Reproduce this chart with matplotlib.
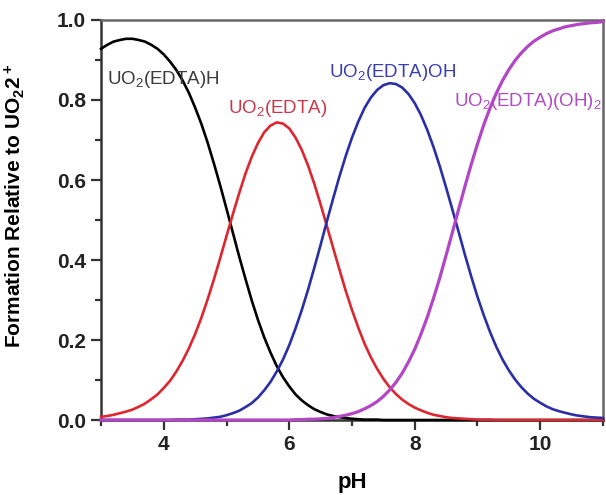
import matplotlib
matplotlib.use("Agg")
import matplotlib.pyplot as plt
from matplotlib.ticker import MultipleLocator, FormatStrFormatter

plt.rcParams['font.family'] = ['Liberation Sans', 'DejaVu Sans']
plt.rcParams['mathtext.fontset'] = 'custom'
plt.rcParams['mathtext.rm'] = 'Liberation Sans'
plt.rcParams['mathtext.bf'] = 'Liberation Sans:bold'
plt.rcParams['mathtext.default'] = 'regular'

# species distribution (pH step 0.1)
ph = [3.0, 3.1, 3.2, 3.3, 3.4, 3.5, 3.6, 3.7, 3.8, 3.9,
      4.0, 4.1, 4.2, 4.3, 4.4, 4.5, 4.6, 4.7, 4.8, 4.9,
      5.0, 5.1, 5.2, 5.3, 5.4, 5.5, 5.6, 5.7, 5.8, 5.9,
      6.0, 6.1, 6.2, 6.3, 6.4, 6.5, 6.6, 6.7, 6.8, 6.9,
      7.0, 7.1, 7.2, 7.3, 7.4, 7.5, 7.6, 7.7, 7.8, 7.9,
      8.0, 8.1, 8.2, 8.3, 8.4, 8.5, 8.6, 8.7, 8.8, 8.9,
      9.0, 9.1, 9.2, 9.3, 9.4, 9.5, 9.6, 9.7, 9.8, 9.9,
      10.0, 10.1, 10.2, 10.3, 10.4, 10.5, 10.6, 10.7, 10.8, 10.9,
      11.0]

edta_h = [0.928, 0.938, 0.946, 0.950, 0.953, 0.953, 0.950, 0.946, 0.938, 0.928,
          0.914, 0.896, 0.875, 0.849, 0.818, 0.781, 0.740, 0.693, 0.641, 0.586,
          0.528, 0.469, 0.410, 0.354, 0.300, 0.251, 0.207, 0.169, 0.135, 0.107,
          0.084, 0.064, 0.049, 0.037, 0.027, 0.020, 0.014, 0.010, 0.007, 0.005,
          0.003, 0.002, 0.001, 0.001, 0.001, 0.000, 0.000, 0.000, 0.000, 0.000,
          0.000, 0.000, 0.000, 0.000, 0.000, 0.000, 0.000, 0.000, 0.000, 0.000,
          0.000, 0.000, 0.000, 0.000, 0.000, 0.000, 0.000, 0.000, 0.000, 0.000,
          0.000, 0.000, 0.000, 0.000, 0.000, 0.000, 0.000, 0.000, 0.000, 0.000,
          0.000]

edta = [0.008, 0.010, 0.013, 0.017, 0.021, 0.026, 0.033, 0.041, 0.052, 0.064,
        0.080, 0.098, 0.121, 0.148, 0.179, 0.215, 0.256, 0.302, 0.352, 0.405,
        0.460, 0.514, 0.566, 0.615, 0.657, 0.692, 0.719, 0.736, 0.744, 0.741,
        0.729, 0.706, 0.675, 0.636, 0.590, 0.539, 0.485, 0.430, 0.376, 0.323,
        0.275, 0.231, 0.191, 0.157, 0.128, 0.103, 0.082, 0.065, 0.051, 0.040,
        0.031, 0.024, 0.018, 0.013, 0.010, 0.007, 0.005, 0.004, 0.003, 0.002,
        0.001, 0.001, 0.001, 0.000, 0.000, 0.000, 0.000, 0.000, 0.000, 0.000,
        0.000, 0.000, 0.000, 0.000, 0.000, 0.000, 0.000, 0.000, 0.000, 0.000,
        0.000]

edta_oh = [0.000, 0.000, 0.000, 0.000, 0.000, 0.000, 0.000, 0.000, 0.000, 0.000,
           0.000, 0.000, 0.001, 0.001, 0.001, 0.002, 0.003, 0.004, 0.006, 0.008,
           0.012, 0.017, 0.023, 0.032, 0.042, 0.056, 0.074, 0.095, 0.121, 0.151,
           0.187, 0.229, 0.275, 0.326, 0.381, 0.438, 0.497, 0.554, 0.609, 0.660,
           0.706, 0.746, 0.780, 0.806, 0.825, 0.837, 0.842, 0.840, 0.831, 0.815,
           0.792, 0.762, 0.725, 0.682, 0.634, 0.581, 0.526, 0.470, 0.413, 0.359,
           0.308, 0.262, 0.220, 0.183, 0.151, 0.124, 0.101, 0.082, 0.066, 0.053,
           0.043, 0.034, 0.027, 0.022, 0.018, 0.014, 0.011, 0.009, 0.007, 0.006,
           0.005]

edta_oh2 = [0.000, 0.000, 0.000, 0.000, 0.000, 0.000, 0.000, 0.000, 0.000, 0.000,
            0.000, 0.000, 0.000, 0.000, 0.000, 0.000, 0.000, 0.000, 0.000, 0.000,
            0.000, 0.000, 0.000, 0.000, 0.000, 0.000, 0.000, 0.000, 0.000, 0.000,
            0.000, 0.001, 0.001, 0.002, 0.002, 0.003, 0.004, 0.006, 0.009, 0.012,
            0.016, 0.021, 0.028, 0.036, 0.046, 0.059, 0.075, 0.094, 0.117, 0.145,
            0.177, 0.215, 0.257, 0.305, 0.356, 0.412, 0.469, 0.527, 0.584, 0.639,
            0.690, 0.738, 0.780, 0.817, 0.849, 0.876, 0.899, 0.918, 0.934, 0.947,
            0.957, 0.966, 0.973, 0.978, 0.983, 0.986, 0.989, 0.991, 0.993, 0.994,
            0.996]

fig = plt.figure(figsize=(6.06, 4.95), dpi=100)
ax = fig.add_axes([0.1667, 0.1515, 0.8283, 0.8081])

# lines drawn over the spines, as in the original
ax.plot(ph, edta_h, color='black', lw=1.9, zorder=3, clip_on=False)
ax.plot(ph, edta, color='#dd2630', lw=1.9, zorder=3, clip_on=False)
ax.plot(ph, edta_oh, color='#2b2fa6', lw=1.9, zorder=3, clip_on=False)
ax.plot(ph, edta_oh2, color='#b246c4', lw=2.3, zorder=3, clip_on=False)

ax.text(3.1, 0.84, 'UO$_2$(EDTA)H', color='#3a3a3a', fontsize=13.5, va='baseline')
ax.text(5.02, 0.767, 'UO$_2$(EDTA)', color='#c8384a', fontsize=13.5, va='baseline')
ax.text(6.63, 0.857, 'UO$_2$(EDTA)OH', color='#3a3fae', fontsize=13.5, va='baseline')
ax.text(8.62, 0.785, 'UO$_2$(EDTA)(OH)$_2$', color='#b04cc2', fontsize=13.5,
        va='baseline', clip_on=False)

ax.set_xlim(3, 11)
ax.set_ylim(0, 1.0)
ax.set_xticks([4, 6, 8, 10])
ax.xaxis.set_minor_locator(MultipleLocator(1))
ax.yaxis.set_major_locator(MultipleLocator(0.2))
ax.yaxis.set_minor_locator(MultipleLocator(0.1))
ax.yaxis.set_major_formatter(FormatStrFormatter('%.1f'))

for s in ax.spines.values():
    s.set_linewidth(1.8)
    s.set_color('#333333')
for s in ['top', 'right']:
    ax.spines[s].set_color('#666666')

ax.tick_params(which='both', direction='out', width=1.6, color='#333333')
ax.tick_params(which='major', length=7, labelsize=15, pad=4)
ax.tick_params(which='minor', length=4)
for lab in ax.get_xticklabels() + ax.get_yticklabels():
    lab.set_fontweight('bold')
    lab.set_color('#222222')

ax.set_xlabel('pH', fontsize=16, fontweight='bold')
ax.xaxis.set_label_coords(0.5, -0.13)
ax.set_ylabel(r'Formation Relative to UO$\mathbf{_2}$2$\mathbf{^+}$', fontsize=15,
              fontweight='bold')
ax.yaxis.set_label_coords(-0.147, 0.535)

fig.savefig('out.png', dpi=100)
